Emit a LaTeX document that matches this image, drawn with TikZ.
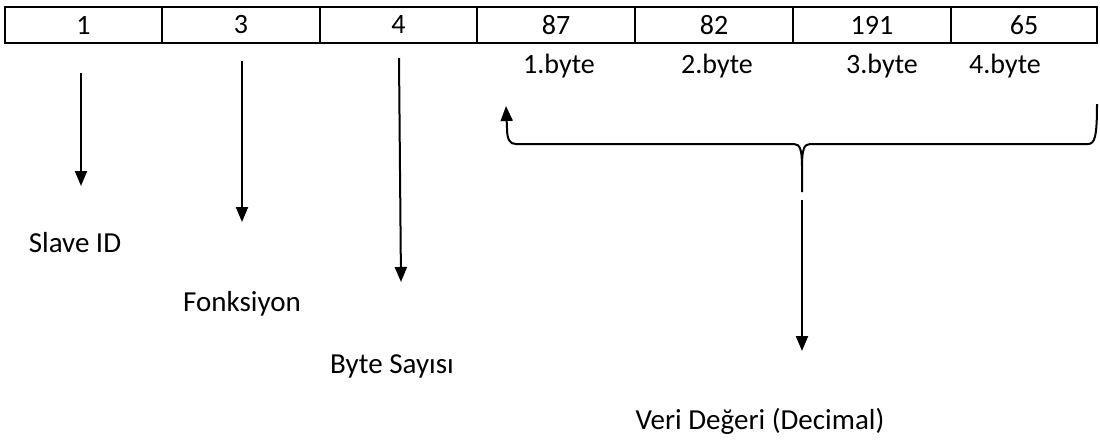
\documentclass[tikz,border=0pt]{standalone}
\usepackage{fontspec}
\setmainfont{Carlito}
\usetikzlibrary{arrows.meta}
\tikzset{
  cell/.style={draw, line width=1pt, minimum height=18pt, inner sep=0pt, anchor=center, font=\fontsize{14}{17}\selectfont},
  lbl/.style={inner sep=0pt, anchor=center, font=\fontsize{14}{17}\selectfont},
  blbl/.style={inner sep=0pt, anchor=center, font=\fontsize{14.5}{18}\selectfont},
  arr/.style={line width=1pt, -{Triangle[width=6pt,length=7.5pt]}},
  brace/.style={line width=1pt}
}
\begin{document}
\begin{tikzpicture}[x=0.5pt,y=-0.5pt]
\useasboundingbox (0,0) rectangle (1100,441);
% table
\node[cell, minimum width=78.5pt] (c1) at (83.5,25) {1};
\node[cell, minimum width=79pt]   (c2) at (241,25) {3};
\node[cell, minimum width=78.5pt] (c3) at (398.5,25) {4};
\node[cell, minimum width=79pt]   (c4) at (556,25) {87};
\node[cell, minimum width=79pt]   (c5) at (714,25) {82};
\node[cell, minimum width=79pt]   (c6) at (872,25) {191};
\node[cell, minimum width=73pt]   (c7) at (1024,25) {65};
% byte labels
\node[lbl] (b1) at (559,66) {1.byte};
\node[lbl] (b2) at (717,66) {2.byte};
\node[lbl] (b3) at (882,66) {3.byte};
\node[lbl] (b4) at (1005,66) {4.byte};
% bottom labels
\node[blbl] (sid) at (75,243) {Slave ID};
\node[blbl] (fon) at (242,304) {Fonksiyon};
\node[blbl] (bs) at (392,366) {Byte Sayısı};
\node[blbl] (vd) at (760,421) {Veri Değeri (Decimal)};
% arrow coordinates
\coordinate (a1s) at (81,73);   \coordinate (a1e) at (81,186);
\coordinate (a2s) at (242,61);  \coordinate (a2e) at (242,222);
\coordinate (a3s) at (399,58);  \coordinate (a3e) at (401,282);
\draw[arr] (a1s) -- (a1e);
\draw[arr] (a2s) -- (a2e);
\draw[arr] (a3s) -- (a3e);
% brace
\coordinate (cusp) at (802,192);
\coordinate (ltip) at (506,106);
\coordinate (rend) at (1097,104);
\coordinate (vs) at (802,200);
\coordinate (ve) at (802,351);
\draw[brace, -{Triangle[width=6pt,length=7.5pt]}] (cusp) -- (802,166) .. controls (802,150) and (800,144) .. (794,144) -- (516,144) .. controls (510,144) and (507,140) .. (507,128) -- (ltip);
\draw[brace] (802,166) .. controls (802,150) and (804,144) .. (810,144) -- (1088,144) .. controls (1095,144) and (1097,136) .. (rend);
\draw[arr] (vs) -- (ve);
\end{tikzpicture}
\end{document}
